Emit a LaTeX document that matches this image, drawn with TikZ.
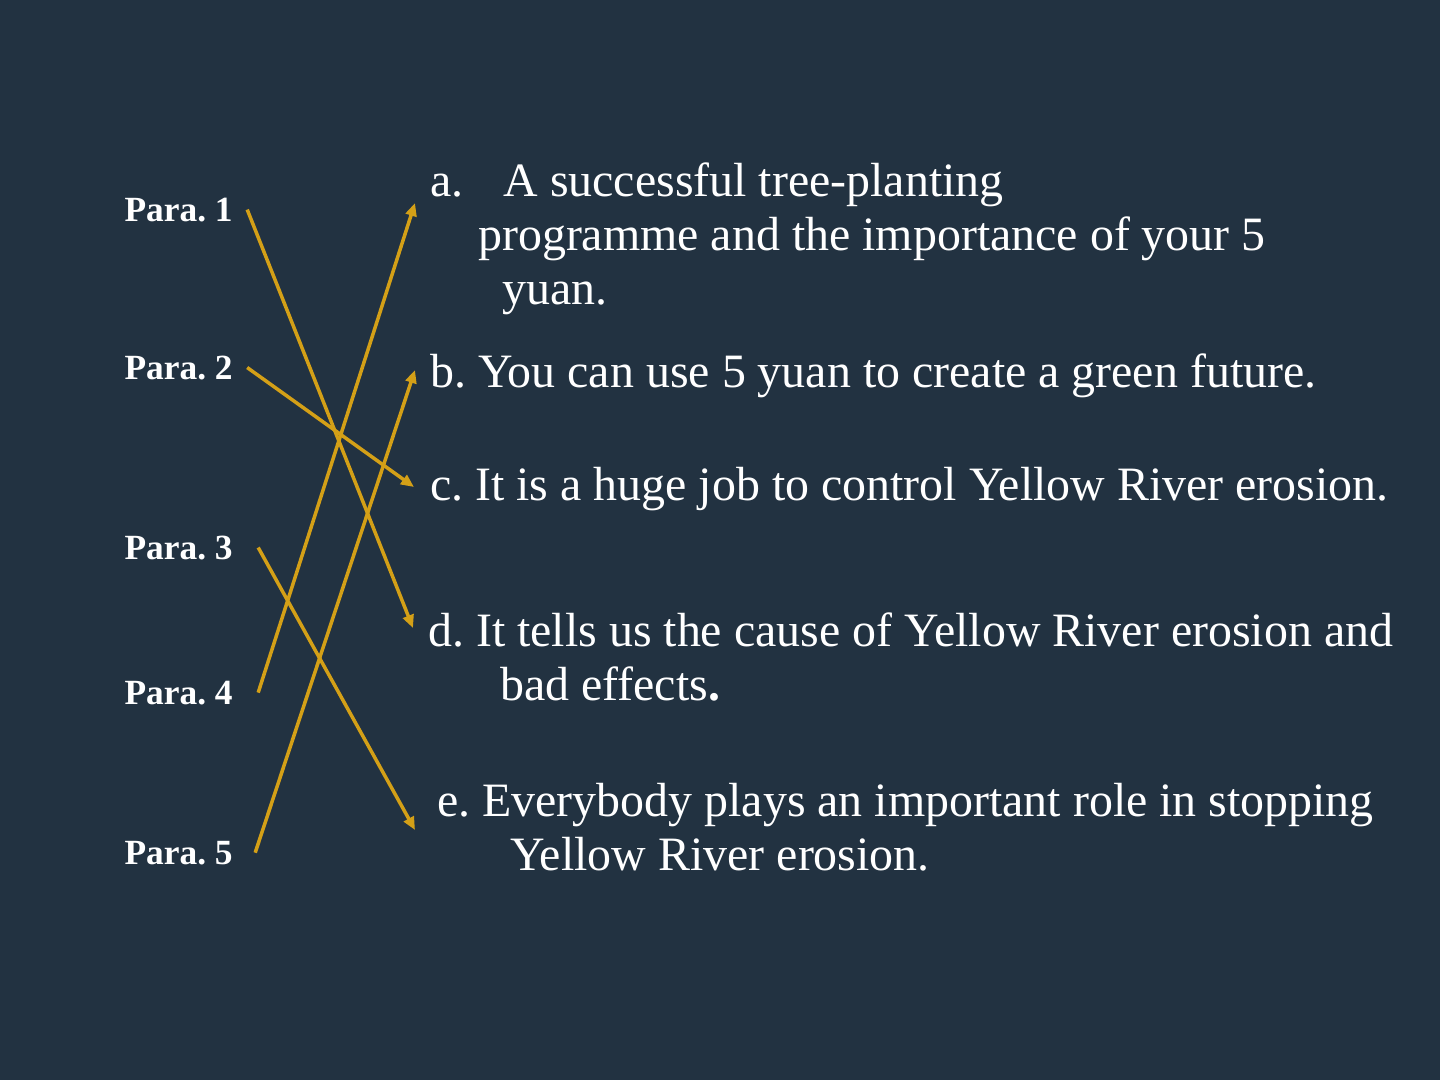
\documentclass[tikz,border=0pt]{standalone}
\usepackage{fontspec}
\setmainfont{Liberation Serif}
\definecolor{bgnavy}{HTML}{223241}
\definecolor{linkgold}{HTML}{D4A017}
\usetikzlibrary{positioning,arrows.meta}
\tikzset{
  para/.style={text=white,font=\fontsize{35.4}{40}\selectfont\bfseries,anchor=base west},
  item/.style={text=white,font=\fontsize{47.9}{54}\selectfont,anchor=base west,align=left,inner sep=0pt},
  link/.style={-{Triangle[length=13pt,width=11pt]},draw=linkgold,line width=3.5pt},
}
\frenchspacing

\begin{document}
\begin{tikzpicture}[x=1pt,y=-1pt]
  \fill[bgnavy] (0,0) rectangle (1440,1080);
  % paragraph labels
  \node[para] (p1) at (121,221) {Para. 1};
  \node[para] (p2) at (121,379) {Para. 2};
  \node[para] (p3) at (121,559) {Para. 3};
  \node[para] (p4) at (121,704) {Para. 4};
  \node[para] (p5) at (121,864) {Para. 5};
  % main ideas (base = last line)
  \node[item] (ia) at (430,304) {a.\hspace{40pt}A successful tree-planting\\
    \hspace*{48pt}programme and the importance of your 5\\
    \hspace*{72pt}yuan.};
  \node[item] (ib) at (430,387) {b. You can use 5 yuan to create a green future.};
  \node[item] (ic) at (430,500) {c. It is a huge job to control Yellow River erosion.};
  \node[item] (id) at (428,700) {d. It tells us the cause of Yellow River erosion and\\
    \hspace*{72pt}bad effects\textbf{.}};
  \node[item] (ie) at (437,870) {e. Everybody plays an important role in stopping\\
    \hspace*{73pt}Yellow River erosion.};
  % arrow tips
  \coordinate (ta) at (415,203);
  \coordinate (tb) at (415,370);
  \coordinate (tc) at (414,487);
  \coordinate (td) at (413,628);
  \coordinate (te) at (415,830);
  \draw[link] ([xshift=11pt]p1.east) -- (td);
  \draw[link] ([xshift=11pt]p2.east) -- (tc);
  \draw[link] ([xshift=22pt]p3.east) -- (te);
  \draw[link] ([xshift=22pt]p4.east) -- (ta);
  \draw[link] ([xshift=19pt]p5.east) -- (tb);
\end{tikzpicture}
\end{document}
